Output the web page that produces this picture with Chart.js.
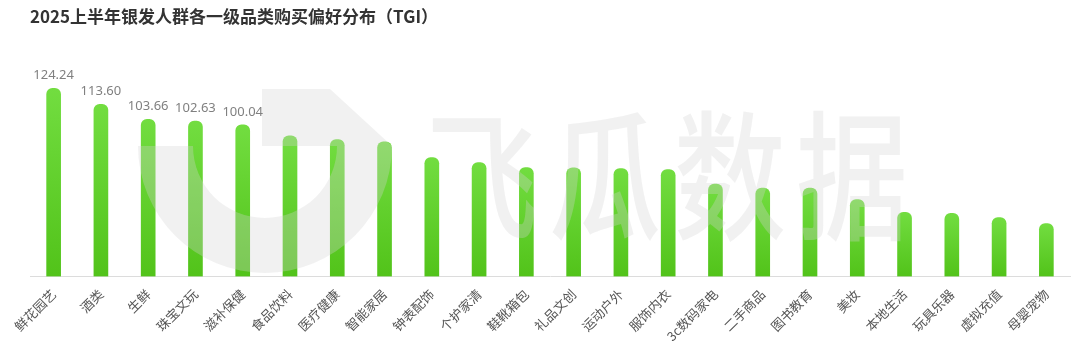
<!DOCTYPE html>
<html>
<head>
<meta charset="utf-8">
<script src="https://cdn.jsdelivr.net/npm/chart.js@4"></script>
<style>
    html, body { margin: 0; padding: 0; background: #fff; }
    #wrap { width: 1080px; height: 348px; position: relative; }
</style>
</head>
<body>
<div id="wrap"><canvas id="chart"></canvas></div>
<script>
const categories = ["鲜花园艺", "酒类", "生鲜", "珠宝文玩", "滋补保健", "食品饮料", "医疗健康", "智能家居",
    "钟表配饰", "个护家清", "鞋靴箱包", "礼品文创", "运动户外", "服饰内衣", "3c数码家电", "二手商品",
    "图书教育", "美妆", "本地生活", "玩具乐器", "虚拟充值", "母婴宠物"];
const tgiValues = [124.24, 113.60, 103.66, 102.63, 100.04, 92.8, 90.4, 88.8,
    78.5, 75.2, 71.9, 71.7, 71.2, 70.6, 61.0, 58.4,
    58.3, 50.7, 42.3, 41.7, 38.8, 34.9];
const labeledBars = 5; // only the top five carry a value label

const titleText = "2025上半年银发人群各一级品类购买偏好分布（TGI）";
const watermarkText = "飞瓜数据";

const barTop = "rgb(114,221,64)";
const barBottom = "rgb(82,195,26)";
const cjk = "'Noto Sans CJK SC', 'Noto Sans', sans-serif";

function barGradient(ctx) {
    const chart = ctx.chart;
    if (!chart.chartArea || ctx.type !== "data") return barBottom;
    const y = chart.scales.y;
    const top = y.getPixelForValue(ctx.raw);
    const bottom = y.getPixelForValue(0);
    const g = chart.ctx.createLinearGradient(0, top, 0, bottom);
    g.addColorStop(0, barTop);
    g.addColorStop(1, barBottom);
    return g;
}

// faint logo + brand text laid over the bars
const watermark = {
    id: "watermark",
    afterDatasetsDraw(chart) {
        const c = chart.ctx;
        c.save();
        c.fillStyle = "rgba(212,212,212,0.32)";
        c.beginPath();
        c.moveTo(262, 89);
        c.lineTo(330, 89);
        c.lineTo(392, 146);
        c.arc(265, 146, 127, 0, Math.PI);
        c.lineTo(193, 146);
        c.arc(265, 146, 72, Math.PI, 0, true);
        c.lineTo(262, 146);
        c.closePath();
        c.fill();

        c.font = "500 140px " + cjk;
        c.textAlign = "center";
        c.textBaseline = "middle";
        const centers = [482, 605, 730, 852];
        [...watermarkText].forEach((ch, i) => {
            c.save();
            c.translate(centers[i], 176);
            c.scale(0.8, 1);
            c.fillText(ch, 0, 0);
            c.restore();
        });
        c.restore();
    }
};

const valueLabels = {
    id: "valueLabels",
    afterDatasetsDraw(chart) {
        const c = chart.ctx;
        const meta = chart.getDatasetMeta(0);
        c.save();
        c.fillStyle = "#808080";
        c.font = "13px 'Noto Sans', sans-serif";
        c.textAlign = "center";
        c.textBaseline = "alphabetic";
        for (let i = 0; i < labeledBars; i++) {
            const bar = meta.data[i];
            c.fillText(tgiValues[i].toFixed(2), bar.x, bar.y - 9);
        }
        c.restore();
    }
};

new Chart(document.getElementById("chart"), {
    type: "bar",
    data: {
        labels: categories,
        datasets: [{
            data: tgiValues,
            backgroundColor: barGradient,
            barThickness: 14,
            borderRadius: { topLeft: 6, topRight: 6, bottomLeft: 0, bottomRight: 0 },
            borderSkipped: false
        }]
    },
    options: {
        responsive: true,
        maintainAspectRatio: false,
        animation: false,
        devicePixelRatio: 1,
        layout: { padding: { left: 30, right: 10, top: 0, bottom: 2 } },
        plugins: {
            legend: { display: false },
            tooltip: { enabled: false },
            title: {
                display: true,
                text: titleText,
                align: "start",
                color: "#333",
                font: { size: 17, weight: "bold", family: cjk },
                padding: { top: 6, bottom: 38 }
            }
        },
        scales: {
            x: {
                grid: { display: false },
                border: { display: true, color: "#dcdcdc" },
                ticks: {
                    color: "#555",
                    font: { size: 13, family: cjk },
                    maxRotation: 45,
                    minRotation: 45,
                    autoSkip: false,
                    padding: 2
                }
            },
            y: {
                display: false,
                min: 0,
                max: 140
            }
        }
    },
    plugins: [watermark, valueLabels]
});
</script>
</body>
</html>
